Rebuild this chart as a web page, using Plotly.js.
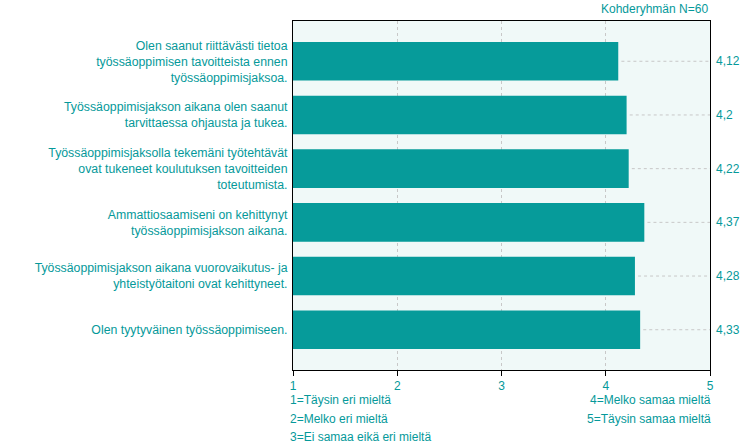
<!DOCTYPE html>
<html>
<head>
<meta charset="utf-8">
<script src="https://cdn.plot.ly/plotly-3.0.1.min.js"></script>
<style>
  body { margin: 0; background: #fff; }
  #chart { width: 750px; height: 447px; }
</style>
</head>
<body>
<div id="chart"></div>
<script>
// survey statements, top to bottom
const categories = [
    'Olen saanut riittävästi tietoa<br>työssäoppimisen tavoitteista ennen<br>työssäoppimisjaksoa.',
    'Työssäoppimisjakson aikana olen saanut<br>tarvittaessa ohjausta ja tukea.',
    'Työssäoppimisjaksolla tekemäni työtehtävät<br>ovat tukeneet koulutuksen tavoitteiden<br>toteutumista.',
    'Ammattiosaamiseni on kehittynyt<br>työssäoppimisjakson aikana.',
    'Työssäoppimisjakson aikana vuorovaikutus- ja<br>yhteistyötaitoni ovat kehittyneet.',
    'Olen tyytyväinen työssäoppimiseen.'
];
const values = [4.12, 4.2, 4.22, 4.37, 4.28, 4.33];
const valueLabels = ['4,12', '4,2', '4,22', '4,37', '4,28', '4,33'];

const scaleTicks = [1, 2, 3, 4, 5];
const scaleLeft = ['1=Täysin eri mieltä', '2=Melko eri mieltä', '3=Ei samaa eikä eri mieltä'];
const scaleRight = ['4=Melko samaa mieltä', '5=Täysin samaa mieltä'];
const groupNote = 'Kohderyhmän N=60';

const teal = '#069b9a';
const textCol = '#05999a';

function plotChart() {
    let bars = {
        type: 'bar',
        orientation: 'h',
        x: values.map(v => v - 1),
        base: 1,
        y: categories,
        marker: { color: teal, line: { width: 0 } },
        width: 0.72,
        hoverinfo: 'skip',
        showlegend: false
    };

    // dashed guide from bar end to the right edge
    let gx = [], gy = [];
    values.forEach((v, i) => {
        gx.push(v + 0.03, 5, null);
        gy.push(categories[i], categories[i], null);
    });
    let guides = {
        type: 'scatter',
        mode: 'lines',
        x: gx,
        y: gy,
        line: { color: '#c8c8c8', width: 1, dash: '3px,3px' },
        hoverinfo: 'skip',
        showlegend: false,
        cliponaxis: false
    };

    let annotations = [];
    // value labels right of the plot
    values.forEach((v, i) => {
        annotations.push({
            xref: 'paper', x: 1, xanchor: 'left', xshift: 4,
            yref: 'y', y: categories[i], yanchor: 'middle',
            text: valueLabels[i], showarrow: false,
            font: { size: 12, color: textCol }
        });
    });
    annotations.push({
        xref: 'paper', x: 1, xanchor: 'right',
        yref: 'paper', y: 1, yanchor: 'bottom', yshift: 3,
        text: groupNote, showarrow: false,
        font: { size: 12, color: textCol }
    });
    scaleLeft.forEach((t, i) => {
        annotations.push({
            xref: 'paper', x: 0, xanchor: 'left', xshift: -5,
            yref: 'paper', y: 0, yanchor: 'middle', yshift: -30 - i * 18.5,
            text: t, showarrow: false,
            font: { size: 12, color: textCol }
        });
    });
    scaleRight.forEach((t, i) => {
        annotations.push({
            xref: 'paper', x: 1, xanchor: 'right', xshift: 3,
            yref: 'paper', y: 0, yanchor: 'middle', yshift: -30 - i * 18.5,
            text: t, showarrow: false,
            font: { size: 12, color: textCol }
        });
    });

    const layout = {
        width: 750,
        height: 447,
        margin: { l: 293, r: 40, t: 21, b: 77 },
        paper_bgcolor: '#ffffff',
        plot_bgcolor: '#f0f9f8',
        font: { family: '"Liberation Sans", Arial, sans-serif', size: 12, color: textCol },
        xaxis: {
            range: [1, 5],
            tickvals: scaleTicks,
            ticktext: scaleTicks.map(String),
            ticks: 'outside',
            ticklen: 5,
            tickcolor: '#000',
            showline: true,
            linecolor: '#000',
            linewidth: 1,
            mirror: true,
            showgrid: true,
            gridcolor: '#c8c8c8',
            griddash: '3px,3px',
            zeroline: false,
            fixedrange: true
        },
        yaxis: {
            type: 'category',
            autorange: false,
            range: [5.75, -0.75],
            showline: true,
            linecolor: '#000',
            linewidth: 1,
            mirror: true,
            ticks: '',
            ticklabelstandoff: 2,
            tickfont: { size: 12.3 },
            showgrid: false,
            zeroline: false,
            fixedrange: true
        },
        bargap: 0.28,
        annotations: annotations
    };

    Plotly.newPlot('chart', [bars, guides], layout, { displayModeBar: false, staticPlot: true });
}

plotChart();
</script>
</body>
</html>
